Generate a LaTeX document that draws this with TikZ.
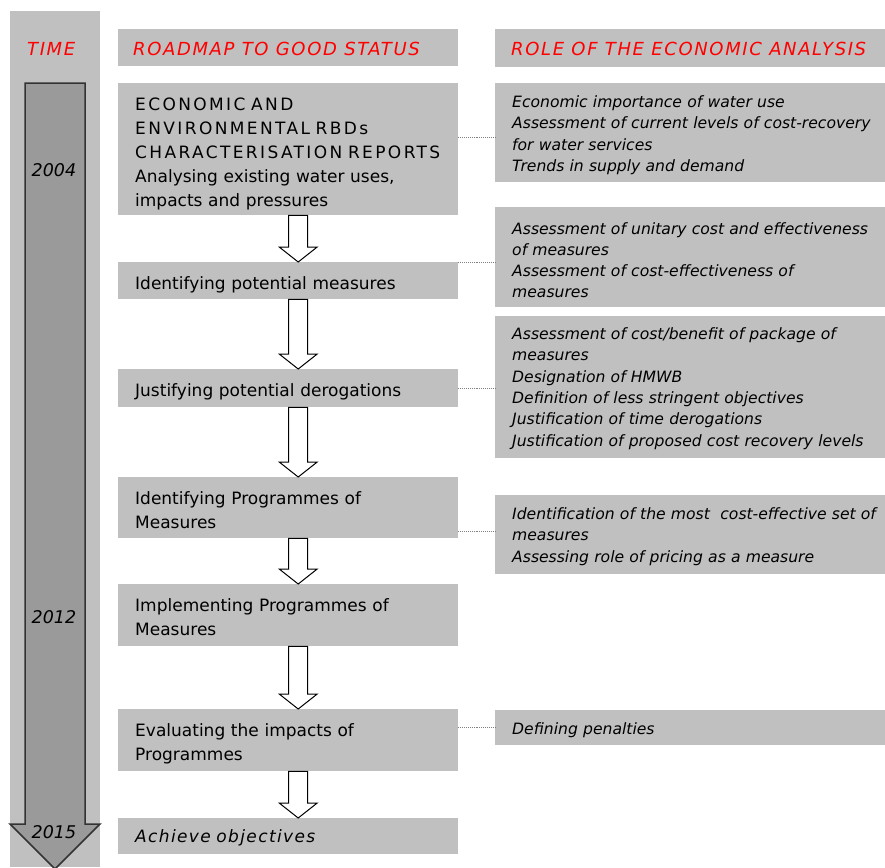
\documentclass[tikz,border=0pt]{standalone}
\usepackage{fontspec}
\setmainfont{DejaVu Sans}
\newfontfamily\capsfont[LetterSpace=14]{DejaVu Sans}
\newfontfamily\headfont[LetterSpace=9]{DejaVu Sans}
\newfontfamily\trackfont[LetterSpace=8]{DejaVu Sans}
\usetikzlibrary{calc}

\definecolor{panelgray}{RGB}{192,192,192}
\definecolor{shaftgray}{RGB}{154,154,154}
\definecolor{headred}{RGB}{255,0,0}

\tikzset{
  box/.style={fill=panelgray, draw=none, inner sep=0pt, anchor=north west},
  midbox/.style={box, minimum width=340pt},
  rolebox/.style={box, minimum width=390pt},
  body/.style={anchor=base west, inner sep=0pt, align=left, text width=320pt,
    font=\fontsize{17}{24}\selectfont},
  role/.style={anchor=base west, inner sep=0pt, align=left, text width=372pt,
    font=\fontsize{15.6}{21.3}\selectfont\itshape},
  heading/.style={anchor=base west, inner sep=0pt, text=headred,
    font=\headfont\fontsize{18}{20}\selectfont\itshape},
  year/.style={anchor=base, inner sep=0pt, font=\fontsize{17.5}{20}\selectfont\itshape},
  hollow/.style={fill=white, draw=black, line width=1pt, line join=miter},
  timearrow/.style={fill=shaftgray, draw=black!80, line width=1.5pt, line join=miter},
  dotline/.style={densely dotted, draw=black!50, line width=0.9pt},
}

% block arrow going down from one box to the next
\newcommand\flowarrow[2]{%
  \draw[hollow] let \p1=(#1.south), \p2=(#2.north) in
    (\x1+0.5pt,\y1) -- (\x1+19.5pt,\y1) -- (\x1+19.5pt,\y2+15pt)
    -- (\x1+29pt,\y2+15pt) -- (\x1+10pt,\y2) -- (\x1-9pt,\y2+15pt)
    -- (\x1+0.5pt,\y2+15pt) -- cycle;}

\begin{document}
\begin{tikzpicture}[x=1pt,y=-1pt]
\useasboundingbox (0,0) rectangle (885,867);
\fill[white] (0,0) rectangle (885,867);

% time column with its long arrow
\fill[panelgray] (10,11) rectangle (100,867);
\draw[timearrow] (25,83) -- (85,83) -- (85,824) -- (100,824) -- (55,869)
  -- (10,824) -- (25,824) -- cycle;
\node[heading] (time) at (27,56) {TIME};
\node[year] (y2004) at (54,176) {2004};
\node[year] (y2012) at (54,623) {2012};
\node[year] (y2015) at (54,838) {2015};

% column headings
\node[midbox, minimum height=37pt] (hroad) at (118,29) {};
\node[heading] (troad) at (133,56) {ROADMAP TO GOOD STATUS};
\node[rolebox, minimum height=38pt] (hrole) at (495,29) {};
\node[heading] (trole) at (511,56) {ROLE OF THE ECONOMIC ANALYSIS};

% roadmap steps
\node[midbox, minimum height=132pt] (b1) at (118,83) {};
\node[midbox, minimum height=37pt] (b2) at (118,262) {};
\node[midbox, minimum height=38pt] (b3) at (118,369) {};
\node[midbox, minimum height=61pt] (b4) at (118,477) {};
\node[midbox, minimum height=62pt] (b5) at (118,584) {};
\node[midbox, minimum height=62pt] (b6) at (118,709) {};
\node[midbox, minimum height=36pt] (b7) at (118,818) {};

\node[body] (t1) at (135,110) {{\capsfont ECONOMIC AND}\\
  {\capsfont ENVIRONMENTAL RBDs}\\
  {\capsfont CHARACTERISATION REPORTS}\\
  Analysing existing water uses,\\impacts and pressures};
\node[body] (t2) at (135,289) {Identifying potential measures};
\node[body] (t3) at (135,396) {Justifying potential derogations};
\node[body] (t4) at (135,504) {Identifying Programmes of\\Measures};
\node[body] (t5) at (135,611) {Implementing Programmes of\\Measures};
\node[body] (t6) at (135,736) {Evaluating the impacts of\\Programmes};
\node[body, font=\trackfont\fontsize{17}{24}\selectfont\itshape] (t7) at (135,842) {Achieve objectives};

\flowarrow{b1}{b2}
\flowarrow{b2}{b3}
\flowarrow{b3}{b4}
\flowarrow{b4}{b5}
\flowarrow{b5}{b6}
\flowarrow{b6}{b7}

% economic analysis boxes
\node[rolebox, minimum height=99pt] (r1) at (495,83) {};
\node[rolebox, minimum height=100pt] (r2) at (495,207) {};
\node[rolebox, minimum height=142pt] (r3) at (495,316) {};
\node[rolebox, minimum height=79pt] (r4) at (495,495) {};
\node[rolebox, minimum height=35pt] (r5) at (495,710) {};

\node[role] (s1) at (512,107.5) {Economic importance of water use\\
  Assessment of current levels of cost-recovery\\for water services\\
  Trends in supply and demand};
\node[role] (s2) at (512,234) {Assessment of unitary cost and effectiveness\\
  of measures\\Assessment of cost-effectiveness of\\measures};
\node[role] (s3) at (512,339.5) {Assessment of cost/benefit of package of\\
  measures\\Designation of HMWB\\Definition of less stringent objectives\\
  Justification of time derogations\\Justification of proposed cost recovery levels};
\node[role] (s4) at (512,519.5) {Identification of the most\ \ cost-effective set of\\
  measures\\Assessing role of pricing as a measure};
\node[role] (s5) at (512,734.5) {Defining penalties};

% dotted links between steps and analyses
\draw[dotline] ($(b1.east)+(0,-12)$) coordinate (d1) -- (d1 -| r1.west);
\draw[dotline] (b2.north east) -- (b2.north east -| r2.west);
\draw[dotline] (b3.east) -- (b3.east -| r3.west);
\draw[dotline] ($(b4.south east)+(0,-7)$) coordinate (d4) -- (d4 -| r4.west);
\draw[dotline] (r5.west -| b6.east) -- (r5.west);
\end{tikzpicture}
\end{document}
